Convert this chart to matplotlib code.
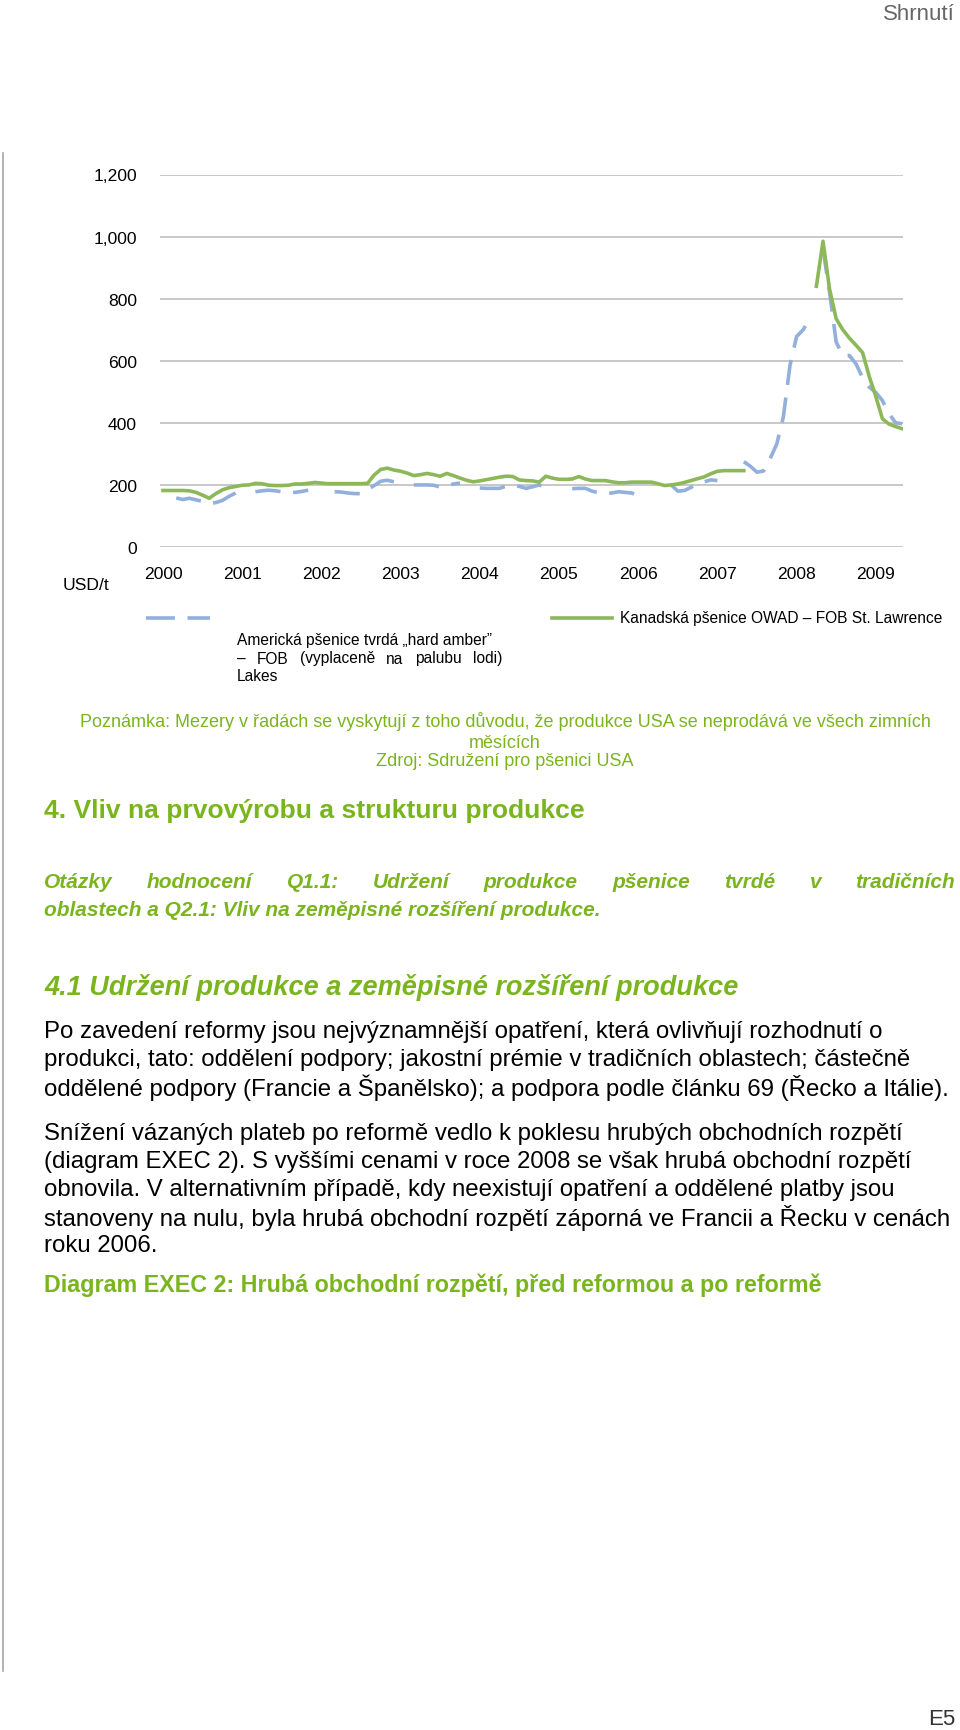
import numpy as np
import matplotlib
matplotlib.use("Agg")
import matplotlib.pyplot as plt
from matplotlib.lines import Line2D

plt.rcParams['font.family'] = ['Liberation Sans', 'DejaVu Sans']

W, H = 960, 1731
nan = np.nan

# ------------------------------
# data (USD/t, monthly Jan 2000 - May 2009)
# ------------------------------
years = ['2000', '2001', '2002', '2003', '2004', '2005', '2006', '2007', '2008', '2009']
y_ticks = [0, 200, 400, 600, 800, 1000, 1200]

usa = [nan, nan, 158, 153, 157, 152, 147, 140, 143, 150, 163, 174,
       nan, nan, 178, 181, 183, 181, 178, 176, 176, 179, 183, nan,
       nan, nan, 178, 177, 174, 172, 172, 185, 198, 212, 215, 210,
       nan, nan, 200, 200, 200, 199, 193, 196, 203, 206, nan, nan,
       190, 189, 189, 189, 196, 200, 195, 189, 194, 200, 190, nan,
       nan, nan, 188, 189, 189, 180, 175, 171, 174, 178, 176, 174,
       165, 160, nan, nan, nan, 200, 180, 182, 192, 203, 210, 216,
       214, nan, nan, nan, 275, 260, 241, 245, 285, 332, 420, 585,
       678, 700, 735, nan, 960, 820, 660, 617, 617, 590, 545, 515,
       498, 472, 430, 400, 397]

canada = [182, 182, 182, 182, 181, 176, 167, 157, 172, 184, 191, 195,
          199, 200, 205, 204, 199, 198, 198, 199, 203, 203, 205, 208,
          206, 204, 204, 204, 204, 204, 204, 205, 232, 250, 254, 248,
          244, 238, 230, 233, 237, 233, 228, 237, 230, 222, 215, 210,
          213, 217, 221, 225, 228, 227, 216, 214, 213, 209, 228, 222,
          218, 218, 219, 227, 219, 214, 214, 214, 210, 207, 207, 209,
          209, 209, 209, 204, 198, 200, 203, 208, 214, 220, 226, 236,
          244, 246, 246, 246, 246, nan, nan, nan, nan, nan, nan, nan,
          nan, nan, nan, 840, 985, 830, 735, 700, 673, 650, 626, 550,
          485, 413, 396, 388, 381]

label_usa = ['Americká pšenice tvrdá „hard amber”',
             '– FOB (vyplaceně na palubu lodi)',
             'Lakes']
label_can = 'Kanadská pšenice OWAD – FOB St. Lawrence'

note = ['Poznámka: Mezery v řadách se vyskytují z toho důvodu, že produkce USA se neprodává ve všech zimních',
        'měsících',
        'Zdroj: Sdružení pro pšenici USA']

head4 = '4. Vliv na prvovýrobu a strukturu produkce'
question = ['Otázky hodnocení Q1.1: Udržení produkce pšenice tvrdé v tradičních',
            'oblastech a Q2.1: Vliv na zeměpisné rozšíření produkce.']
head41 = '4.1 Udržení produkce a zeměpisné rozšíření produkce'
para1 = ['Po zavedení reformy jsou nejvýznamnější opatření, která ovlivňují rozhodnutí o',
         'produkci, tato: oddělení podpory; jakostní prémie v tradičních oblastech; částečně',
         'oddělené podpory (Francie a Španělsko); a podpora podle článku 69 (Řecko a Itálie).']
para2 = ['Snížení vázaných plateb po reformě vedlo k poklesu hrubých obchodních rozpětí',
         '(diagram EXEC 2). S vyššími cenami v roce 2008 se však hrubá obchodní rozpětí',
         'obnovila. V alternativním případě, kdy neexistují opatření a oddělené platby jsou',
         'stanoveny na nulu, byla hrubá obchodní rozpětí záporná ve Francii a Řecku v cenách',
         'roku 2006.']
diagram = 'Diagram EXEC 2: Hrubá obchodní rozpětí, před reformou a po reformě'

GREEN_TXT = '#7AB51F'
GREEN_LINE = '#8DB85A'
BLUE_LINE = '#93AFDB'
GRID = '#C4C4C4'


def fx(px):
    return px / W


def fy(py):
    return 1 - py / H


fig = plt.figure(figsize=(W / 100, H / 100), dpi=100)
renderer = fig.canvas.get_renderer()


def text_width(s, size, **kw):
    t = fig.text(0, 0, s, fontsize=size, **kw)
    w = t.get_window_extent(renderer).width
    t.remove()
    return w


def fit(s, width_px, **kw):
    return 10 * width_px / text_width(s, 10, **kw)


def justify(s, x0, x1, y, size, **kw):
    words = s.split(' ')
    widths = [text_width(w, size, **kw) for w in words]
    gap = (x1 - x0 - sum(widths)) / (len(words) - 1)
    x = x0
    for w, wd in zip(words, widths):
        fig.text(fx(x), fy(y), w, fontsize=size, ha='left', va='center', **kw)
        x += wd + gap


# ------------------------------
# chart
# ------------------------------
x0_px, step_px, right_px = 163, 6.6, 903
ax = fig.add_axes([fx(160), fy(548), (right_px - 160) / W, (548 - 175.5) / H])
months = np.arange(len(canada))
ax.plot(months, usa, color=BLUE_LINE, lw=2.6, dashes=(7, 3.5), solid_capstyle='butt')
ax.plot(months, canada, color=GREEN_LINE, lw=2.6, solid_joinstyle='round')
ax.set_xlim(-(x0_px - 160) / step_px, (right_px - x0_px) / step_px)
ax.set_ylim(0, 1200)
ax.set_yticks(y_ticks)
ax.set_yticklabels([f'{v:,}' for v in y_ticks])
ax.set_xticks(np.arange(len(years)) * 12)
ax.set_xticklabels(years)
ax.tick_params(axis='y', length=0, pad=16.5, labelsize=12.6)
ax.tick_params(axis='x', length=0, pad=14, labelsize=12.6)
ax.yaxis.grid(True, color=GRID, lw=1.3)
ax.set_axisbelow(True)
for sp in ax.spines.values():
    sp.set_visible(False)

fig.text(fx(86), fy(585), 'USD/t', fontsize=12.6, ha='center', va='center')

# legend
fig.add_artist(Line2D([fx(146), fx(210)], [fy(619), fy(619)], color=BLUE_LINE,
                      lw=2.6, dashes=(8, 3.5)))
fig.add_artist(Line2D([fx(552), fx(612)], [fy(619), fy(619)], color=GREEN_LINE, lw=2.6))
leg_size = fit(label_can, 323)
fig.text(fx(620), fy(619), label_can, fontsize=leg_size, ha='left', va='center')
fig.text(fx(237), fy(640), label_usa[0], fontsize=leg_size, ha='left', va='center')
justify(label_usa[1], 237, 502, 659, leg_size)
fig.text(fx(237), fy(677), label_usa[2], fontsize=leg_size, ha='left', va='center')

# left frame line
fig.add_artist(Line2D([fx(3), fx(3)], [fy(154), fy(1672)], color='#A6A6A6', lw=1.2))

# ------------------------------
# page texts
# ------------------------------
top_size = fit('Shrnutí', 72)
fig.text(fx(955), fy(14), 'Shrnutí', fontsize=top_size, color='#666666', ha='right', va='center')
fig.text(fx(955), fy(1720), 'E5', fontsize=top_size, color='#333333', ha='right', va='center')

note_size = fit(note[0], 853)
for s, yy in zip(note, [722, 743, 762]):
    fig.text(fx(505), fy(yy), s, fontsize=note_size, color=GREEN_TXT, ha='center', va='center')

h_size = fit(head4, 541, weight='bold')
fig.text(fx(44), fy(811), head4, fontsize=h_size, color=GREEN_TXT, weight='bold',
         ha='left', va='center')

q_size = fit(question[1], 557, weight='bold', style='italic')
justify(question[0], 44, 955, 883, q_size, weight='bold', style='italic', color=GREEN_TXT)
fig.text(fx(44), fy(911), question[1], fontsize=q_size, color=GREEN_TXT, weight='bold',
         style='italic', ha='left', va='center')

h41_size = fit(head41, 695, weight='bold', style='italic')
fig.text(fx(44), fy(988), head41, fontsize=h41_size, color=GREEN_TXT, weight='bold',
         style='italic', ha='left', va='center')

body_size = fit(para2[3], 908)
for s, yy in zip(para1, [1032, 1060, 1088]):
    fig.text(fx(44), fy(yy), s, fontsize=body_size, ha='left', va='center')
for s, yy in zip(para2, [1134, 1162, 1190, 1218, 1246]):
    fig.text(fx(44), fy(yy), s, fontsize=body_size, ha='left', va='center')

d_size = fit(diagram, 778, weight='bold')
fig.text(fx(44), fy(1285), diagram, fontsize=d_size, color=GREEN_TXT, weight='bold',
         ha='left', va='center')

fig.savefig('out.png', dpi=100)
